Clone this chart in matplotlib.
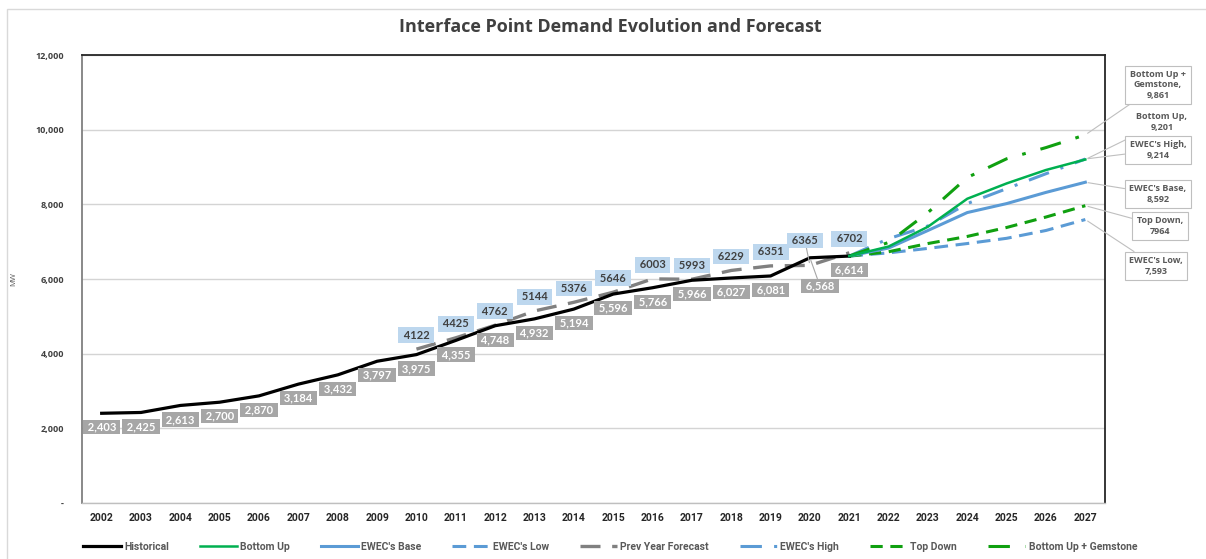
import matplotlib
matplotlib.use("Agg")
import matplotlib.pyplot as plt
from matplotlib.patches import Rectangle

years = list(range(2002, 2028))
year_labels = [str(y) for y in years]

historical = [2403, 2425, 2613, 2700, 2870, 3184, 3432, 3797, 3975, 4355,
              4748, 4932, 5194, 5596, 5766, 5966, 6027, 6081, 6568, 6614]
prev_year_years = list(range(2010, 2022))
prev_year = [4122, 4425, 4762, 5144, 5376, 5646, 6003, 5993, 6229, 6351, 6365, 6702]

fc_years = list(range(2021, 2028))
bottom_up = [6614, 6870, 7400, 8150, 8560, 8920, 9201]
ewec_base = [6614, 6830, 7300, 7780, 8020, 8320, 8592]
ewec_low = [6614, 6700, 6820, 6950, 7090, 7300, 7593]
ewec_high = [6614, 7080, 7420, 8020, 8420, 8820, 9214]
top_down = [6614, 6730, 6950, 7140, 7380, 7660, 7964]
gemstone = [6614, 6980, 7780, 8720, 9220, 9520, 9861]

BLUE = "#5b9bd5"
GREEN = "#00b050"
DGREEN = "#10a010"
GRAY = "#808080"
OPEN = ["Open Sans", "DejaVu Sans"]
LATO = ["Lato", "DejaVu Sans"]
ROBOTO = ["Roboto", "DejaVu Sans"]


def idx(yrs):
    return [y - years[0] for y in yrs]


fig = plt.figure(figsize=(12.06, 5.59), dpi=100)
ax = fig.add_axes([82 / 1206, 1 - 503 / 559, (1105 - 82) / 1206, (503 - 55) / 559])

# outer chart border
fig.patches.append(Rectangle((7 / 1206, -0.1), 1.2, 1 - 9 / 559 + 0.1,
                             transform=fig.transFigure, fill=False,
                             ec="#d9d9d9", lw=1.0))

ax.set_xlim(-0.5, len(years) - 0.5)
ax.set_ylim(0, 12000)
ax.set_yticks(range(0, 12001, 2000))
ax.set_yticklabels(["-", "2,000", "4,000", "6,000", "8,000", "10,000", "12,000"],
                   fontsize=6.5, color="#404040", fontweight="bold", family=OPEN)
ax.set_xticks(range(len(years)))
ax.set_xticklabels(year_labels, fontsize=7.5, fontweight="bold",
                   color="#262626", family=ROBOTO)
ax.tick_params(axis="both", length=0)
ax.tick_params(axis="x", pad=7)
ax.tick_params(axis="y", pad=13)
ax.grid(axis="y", color="#d4d4d4", lw=1.0)
ax.set_axisbelow(True)
for side in ("top", "right"):
    ax.spines[side].set_color("#262626")
    ax.spines[side].set_linewidth(1.3)
ax.spines["left"].set_color("#808080")
ax.spines["left"].set_linewidth(1.3)
ax.spines["bottom"].set_color("#bfbfbf")
ax.spines["bottom"].set_linewidth(1.0)

ax.set_ylabel("MW", fontsize=5.5, color="#595959", family=OPEN)
ax.yaxis.set_label_coords((17 - 82) / 1023, 0.5)

# series
ax.plot(idx(prev_year_years), prev_year, color=GRAY, lw=2.4,
        dashes=(6, 3.5), label="Prev Year Forecast", zorder=3)
ax.plot(idx(years[:len(historical)]), historical, color="black", lw=2.3,
        label="Historical", zorder=4)
ax.plot(idx(fc_years), ewec_low, color=BLUE, lw=2.2, dashes=(4.5, 2.5),
        label="EWEC's Low", zorder=3)
ax.plot(idx(fc_years), top_down, color=DGREEN, lw=2.2, dashes=(4, 2.5),
        label="Top Down", zorder=3)
ax.plot(idx(fc_years), ewec_base, color=BLUE, lw=2.2, label="EWEC's Base", zorder=3)
ax.plot(idx(fc_years), ewec_high, color=BLUE, lw=2.2, dashes=(7, 4, 1, 4),
        label="EWEC's High", zorder=3)
ax.plot(idx(fc_years), bottom_up, color=GREEN, lw=1.8, label="Bottom Up", zorder=4)
ax.plot(idx(fc_years), gemstone, color=DGREEN, lw=2.2, dashes=(7, 5, 1.2, 5),
        label="Bottom Up + Gemstone", zorder=3)

# data labels: historical values below, previous forecasts above
for i, v in enumerate(historical):
    off = (0, -14)
    line = None
    if years[i] == 2020:
        off = (10, -28)
        line = dict(arrowstyle="-", color="#a6a6a6", lw=0.8, shrinkA=0, shrinkB=2)
    ax.annotate(f" {v:,} ", (i, v), xytext=off, textcoords="offset pixels",
                ha="center", va="center", fontsize=8, fontweight="bold",
                color="white", family=LATO, zorder=6, arrowprops=line,
                bbox=dict(boxstyle="square,pad=0.15", fc="#a6a6a6", ec="none"))

for y, v in zip(prev_year_years, prev_year):
    off = (0, 14)
    line = None
    if y == 2020:
        off = (-5, 25)
        line = dict(arrowstyle="-", color="#a6a6a6", lw=0.8, shrinkA=0, shrinkB=2)
    ax.annotate(f" {v} ", (y - years[0], v), xytext=off, textcoords="offset pixels",
                ha="center", va="center", fontsize=8, fontweight="bold",
                color="#404040", family=LATO, zorder=6, arrowprops=line,
                bbox=dict(boxstyle="square,pad=0.2", fc="#bdd7ee", ec="none"))

# end-of-horizon callouts
callouts = [
    ("Bottom Up +\nGemstone,\n9,861", gemstone[-1], (1158, 559 - 85), True),
    ("Bottom Up,\n9,201", bottom_up[-1], (1162, 559 - 122), False),
    ("EWEC's High,\n9,214", ewec_high[-1], (1158, 559 - 150), True),
    ("EWEC's Base,\n8,592", ewec_base[-1], (1158, 559 - 194), True),
    ("Top Down,\n7964", top_down[-1], (1160, 559 - 226), True),
    ("EWEC's Low,\n7,593", ewec_low[-1], (1156, 559 - 266), True),
]
for text, v, pos, edge in callouts:
    ax.annotate(text, (len(years) - 1, v), xytext=pos, textcoords="figure pixels",
                ha="center", va="center", fontsize=6.5, fontweight="bold",
                color="#595959", family=OPEN, linespacing=1.15,
                annotation_clip=False, zorder=7,
                bbox=dict(boxstyle="square,pad=0.5", fc="white",
                          ec="#bfbfbf" if edge else "white", lw=0.8),
                arrowprops=dict(arrowstyle="-", color="#bfbfbf", lw=0.8,
                                shrinkA=0, shrinkB=2))

fig.text(0.506, 1 - 27 / 559, "Interface Point Demand Evolution and Forecast",
         ha="center", va="center", fontsize=13, fontweight="bold",
         color="#404040", family=OPEN)

# legend
order = ["Historical", "Bottom Up", "EWEC's Base", "EWEC's Low",
         "Prev Year Forecast", "EWEC's High", "Top Down", "Bottom Up + Gemstone"]
handles, labels = ax.get_legend_handles_labels()
hmap = dict(zip(labels, handles))
fig.legend([hmap[k] for k in order], order, loc="center",
           bbox_to_anchor=(0.506, 1 - 547 / 559), ncol=8, frameon=False,
           prop=dict(family=ROBOTO, size=7.5, weight="bold"), handlelength=3.6,
           handletextpad=0.3, columnspacing=2.95, labelcolor="#595959")

fig.savefig("out.png", dpi=100)
